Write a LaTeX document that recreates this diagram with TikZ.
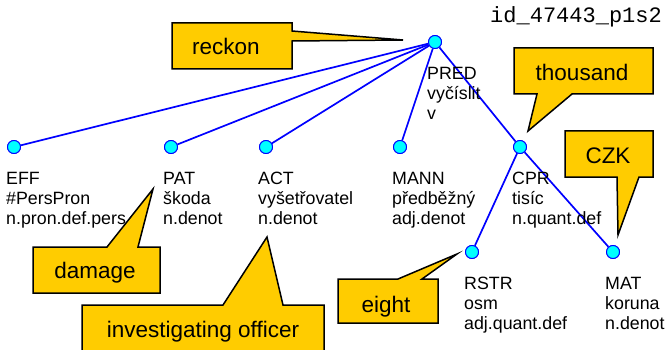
\documentclass[tikz,border=0pt]{standalone}
\usepackage{fontspec}
\setmainfont{Liberation Sans}
\setmonofont{Liberation Mono}
\definecolor{calloutyellow}{RGB}{255,204,0}
\definecolor{nodecyan}{RGB}{0,255,255}
\tikzset{
  edge/.style={draw=blue, line width=1.7pt},
  tnode/.style={circle, draw=blue, fill=nodecyan, line width=0.9pt, minimum size=13pt, inner sep=0pt},
  % base anchor of a multi-line label sits on its last line
  tlabel/.style={anchor=base west, align=left, inner sep=0pt, font=\fontsize{17.8}{20}\selectfont},
  callout/.style={fill=calloutyellow, draw=black, line width=1.5pt, line join=miter},
  callouttext/.style={anchor=base, inner sep=0pt, font=\fontsize{22.5}{27}\selectfont},
}
\begin{document}
\begin{tikzpicture}[x=1pt, y=-1pt]
\useasboundingbox (0,0) rectangle (672,350);

% tree nodes
\node[tnode] (pred) at (435,42) {};
\node[tnode] (eff)  at (14,147) {};
\node[tnode] (pat)  at (171,147) {};
\node[tnode] (act)  at (266,147) {};
\node[tnode] (mann) at (400,147) {};
\node[tnode] (cpr)  at (520,147) {};
\node[tnode] (rstr) at (472,252) {};
\node[tnode] (mat)  at (613,252) {};

% edges, then the circles again on top
\foreach \c in {eff,pat,act,mann,cpr} \draw[edge] (pred) -- (\c);
\draw[edge] (cpr) -- (rstr);
\draw[edge] (cpr) -- (mat);
\foreach \c in {pred,eff,pat,act,mann,cpr,rstr,mat} \node[tnode] at (\c) {};

% node labels
\node[tlabel] (predlab) at (427,120) {PRED\\vyčíslit\\v};
\node[tlabel] (efflab)  at (6,224)   {EFF\\\#PersPron\\n.pron.def.pers};
\node[tlabel] (patlab)  at (163,224) {PAT\\škoda\\n.denot};
\node[tlabel] (actlab)  at (258,224) {ACT\\vyšetřovatel\\n.denot};
\node[tlabel] (mannlab) at (392,224) {MANN\\předběžný\\adj.denot};
\node[tlabel] (cprlab)  at (512,224) {CPR\\tisíc\\n.quant.def};
\node[tlabel] (rstrlab) at (464,329) {RSTR\\osm\\adj.quant.def};
\node[tlabel] (matlab)  at (605,329) {MAT\\koruna\\n.denot};

% sentence id
\node[anchor=base west, inner sep=0pt, font=\ttfamily\fontsize{22}{26}\selectfont] (sentid) at (490,23) {id\_47443\_p1s2};

% callouts
\draw[callout] (172,23) -- (292,23) -- (292,31) -- (403,40) -- (292,41) -- (292,69) -- (172,69) -- cycle;
\node[callouttext] (reckon) at (226,55) {reckon};

\draw[callout] (514,48) -- (653,48) -- (653,94) -- (572,94) -- (528,131) -- (537,94) -- (514,94) -- cycle;
\node[callouttext] (thousand) at (582,81) {thousand};

\draw[callout] (565,131) -- (653,131) -- (653,177) -- (639,177) -- (618,235) -- (617,177) -- (565,177) -- cycle;
\node[callouttext] (czk) at (608,164) {CZK};

\draw[callout] (33,247) -- (107,247) -- (153,189) -- (138,247) -- (160,247) -- (160,293) -- (33,293) -- cycle;
\node[callouttext] (damage) at (95,278) {damage};

\draw[callout] (82,305) -- (223,305) -- (267,237) -- (283,305) -- (324,305) -- (324,362) -- (82,362) -- cycle;
\node[callouttext] (officer) at (203,337) {investigating officer};

\draw[callout] (338,279) -- (398,279) -- (457,254) -- (422,279) -- (438,279) -- (438,323) -- (338,323) -- cycle;
\node[callouttext] (eight) at (386,312) {eight};
\end{tikzpicture}
\end{document}
